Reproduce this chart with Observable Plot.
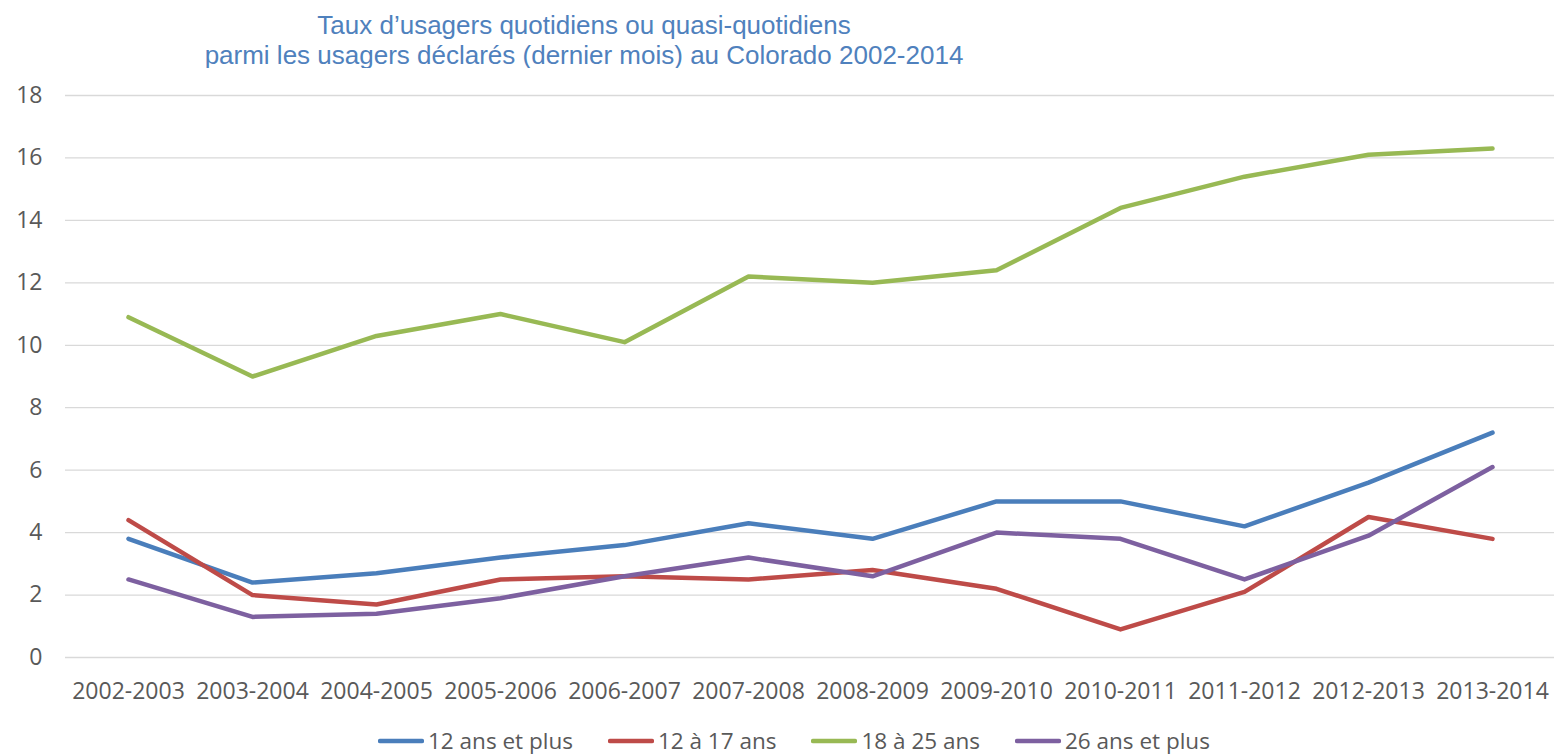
<!DOCTYPE html>
<html>
<head>
<meta charset="utf-8">
<script src="https://cdn.jsdelivr.net/npm/d3@7"></script>
<script src="https://cdn.jsdelivr.net/npm/@observablehq/plot@0.6"></script>
<style>
  html, body { margin: 0; padding: 0; background: #fff; }
  #wrap { position: relative; width: 1554px; height: 756px; overflow: hidden; }
  #title { position: absolute; left: 0; top: 10px; width: 1168px; text-align: center;
    font-family: "Liberation Sans", Arial, sans-serif; font-size: 26px; line-height: 30px; color: #4f81bd; }
  #chart { position: absolute; left: 0; top: 68px; }
  #legend { position: absolute; left: 378px; top: 726px; height: 30px; display: flex; gap: 35px;
    font-family: "Open Sans", sans-serif; font-size: 22.5px; color: #595959; line-height: 30px; }
  .item { display: flex; align-items: center; }
  .item svg { margin-right: 4px; }
</style>
</head>
<body>
<div id="wrap">
  <div id="title">Taux d’usagers quotidiens ou quasi-quotidiens<br>parmi les usagers déclarés (dernier mois) au Colorado 2002-2014</div>
  <div id="chart"></div>
  <div id="legend"></div>
</div>
<script>
const periods = ["2002-2003","2003-2004","2004-2005","2005-2006","2006-2007","2007-2008","2008-2009","2009-2010","2010-2011","2011-2012","2012-2013","2013-2014"];
const seriesNames = ["12 ans et plus","12 à 17 ans","18 à 25 ans","26 ans et plus"];
const seriesColors = ["#4a7ebb","#be4b48","#98b954","#7d60a0"];
const ans12Plus  = [3.8, 2.4, 2.7, 3.2, 3.6, 4.3, 3.8, 5.0, 5.0, 4.2, 5.6, 7.2];
const ans12a17   = [4.4, 2.0, 1.7, 2.5, 2.6, 2.5, 2.8, 2.2, 0.9, 2.1, 4.5, 3.8];
const ans18a25   = [10.9, 9.0, 10.3, 11.0, 10.1, 12.2, 12.0, 12.4, 14.4, 15.4, 16.1, 16.3];
const ans26Plus  = [2.5, 1.3, 1.4, 1.9, 2.6, 3.2, 2.6, 4.0, 3.8, 2.5, 3.9, 6.1];
const yTicks = [0, 2, 4, 6, 8, 10, 12, 14, 16, 18];

const seriesValues = [ans12Plus, ans12a17, ans18a25, ans26Plus];
const data = [];
seriesValues.forEach((vals, s) => vals.forEach((v, i) => data.push({period: periods[i], value: v, series: seriesNames[s]})));

const chart = Plot.plot({
  width: 1554,
  height: 644,
  marginTop: 27,
  marginBottom: 55,
  marginLeft: 65,
  marginRight: 0,
  style: { fontFamily: "'Open Sans', sans-serif", fontSize: "23px", color: "#595959", background: "#fff", overflow: "visible" },
  x: { type: "point", domain: periods, padding: 0.5, label: null },
  y: { domain: [0, 18], label: null },
  color: { domain: seriesNames, range: seriesColors },
  marks: [
    Plot.gridY(yTicks, { stroke: "#d9d9d9", strokeOpacity: 1, strokeWidth: 1.3 }),
    Plot.axisY(yTicks, { tickSize: 0, tickPadding: 23, label: null, fontSize: 23 }),
    Plot.axisX({ tickSize: 0, tickPadding: 25, label: null, fontSize: 23 }),
    Plot.line(data, { x: "period", y: "value", z: "series", stroke: "series", strokeWidth: 4.5, strokeLinejoin: "round", strokeLinecap: "round" })
  ]
});
document.getElementById("chart").appendChild(chart);

const legend = document.getElementById("legend");
seriesNames.forEach((name, i) => {
  const item = document.createElement("div");
  item.className = "item";
  item.innerHTML = `<svg width="46" height="8"><line x1="2" y1="4" x2="44" y2="4" stroke="${seriesColors[i]}" stroke-width="4.5" stroke-linecap="round"/></svg><span>${name}</span>`;
  legend.appendChild(item);
});
</script>
</body>
</html>
